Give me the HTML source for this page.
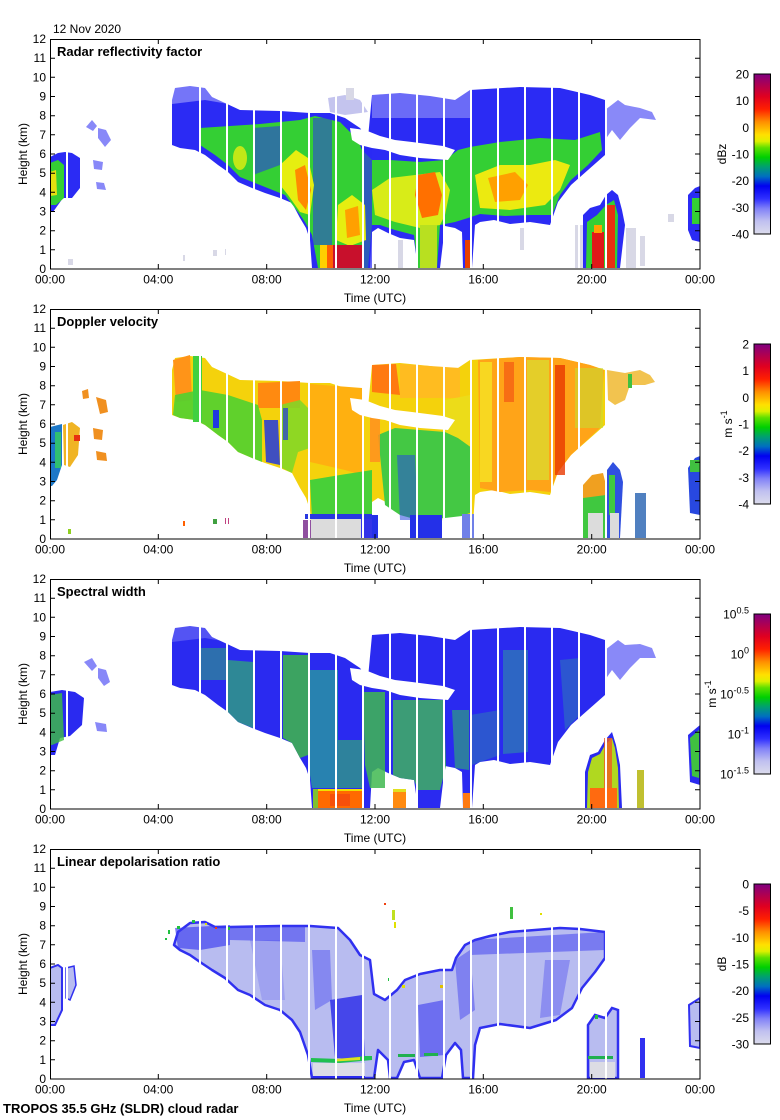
<!DOCTYPE html>
<html><head><meta charset="utf-8"><style>html,body{margin:0;padding:0;background:#fff}svg{display:block}</style></head>
<body>
<svg width="780" height="1120" viewBox="0 0 780 1120" xmlns="http://www.w3.org/2000/svg" font-family="'Liberation Sans', Arial, sans-serif" font-size="12">
<defs>
<clipPath id="c"><rect x="50" y="39" width="650" height="230"/></clipPath>
<linearGradient id="cm" x1="0" y1="1" x2="0" y2="0">
<stop offset="0" stop-color="#dcdcec"/><stop offset="0.08" stop-color="#c0c0f0"/><stop offset="0.16" stop-color="#8080f8"/><stop offset="0.22" stop-color="#3030ff"/><stop offset="0.30" stop-color="#0000f0"/><stop offset="0.36" stop-color="#0070c0"/><stop offset="0.42" stop-color="#00a070"/><stop offset="0.48" stop-color="#00d000"/><stop offset="0.54" stop-color="#60e000"/><stop offset="0.58" stop-color="#e0f000"/><stop offset="0.62" stop-color="#ffe000"/><stop offset="0.70" stop-color="#ff9000"/><stop offset="0.78" stop-color="#ff2000"/><stop offset="0.86" stop-color="#e00020"/><stop offset="1" stop-color="#800080"/>
</linearGradient>
<path id="env" d="M172,100 L175,88 L190,86 L205,88 L212,97 L225,103 L240,110 L280,111 L310,113 L330,113 L345,118 L360,128 L368,138 L372,95 L400,93 L430,96 L455,100 L470,90 L520,87 L560,88 L590,95 L605,100 L605,155 L588,170 L571,185 L558,202 L550,225 L530,222 L510,224 L494,220 L480,222 L475,225 L472,268 L463,268 L462,232 L455,228 L445,226 L440,268 L418,268 L414,240 L400,238 L388,233 L378,228 L372,232 L370,268 L312,268 L310,240 L306,228 L300,218 L292,203 L280,198 L265,193 L252,188 L238,182 L228,172 L218,165 L205,155 L195,150 L180,148 L172,145 Z"/>
<path id="hole" d="M350,128 L365,130 L380,136 L395,140 L412,142 L443,146 L455,150 L448,160 L420,158 L400,155 L385,150 L372,148 L360,145 L352,140 Z"/>
<path id="env4" d="M174,135 L178,122 L190,113 L205,112 L215,117 L230,117 L280,116 L310,116 L338,118 L350,130 L360,145 L370,150 L374,184 L385,190 L397,180 L405,170 L420,164 L440,160 L452,160 L456,148 L465,135 L475,130 L490,126 L510,122 L560,118 L580,119 L605,122 L605,148 L595,162 L582,178 L572,198 L556,210 L530,218 L500,214 L480,218 L475,235 L473,268 L463,268 L461,240 L455,233 L446,245 L442,268 L420,268 L414,250 L404,252 L397,268 L390,268 L388,250 L378,240 L374,268 L312,268 L308,245 L300,222 L292,210 L280,200 L265,195 L250,185 L238,180 L225,168 L212,160 L200,152 L190,145 L180,140 Z"/>
<path id="gaps" fill="none" stroke="#fff" stroke-width="2" d="M67,39V269M200,39V269M227,39V269M254,39V269M281,39V269M309,39V269M336,39V269M363,39V269M390,39V269M417,39V269M444,39V269M471,39V269M498,39V269M525,39V269M552,39V269M579,39V269M606,39V269"/>
</defs>

<!-- ===== Panel 1 data ===== -->
<g clip-path="url(#c)">
<use href="#env" fill="#2b2bf4"/>
<path d="M172,86L240,86L240,106L205,100L172,104Z" fill="#fff" opacity=".35"/>
<path d="M372,92L470,89L470,118L372,118Z" fill="#fff" opacity=".3"/>
<path d="M328,98L345,95L360,100L368,112L345,115L330,112Z" fill="#c4c4ee"/>
<path d="M200,128 L230,126 L260,124 L300,120 L315,116 L340,122 L358,140 L362,150 L372,160 L390,160 L420,162 L445,160 L458,150 L470,147 L500,142 L540,138 L575,140 L600,132 L602,150 L588,165 L571,180 L560,195 L552,215 L530,215 L505,216 L480,214 L468,218 L455,222 L440,225 L437,268 L418,268 L414,235 L395,230 L380,225 L372,225 L368,268 L318,268 L312,235 L305,222 L298,212 L285,195 L270,189 L255,183 L240,177 L228,165 L215,155 L200,145Z" fill="#34cf34"/>
<path d="M253,128L280,126L280,165L253,175Z" fill="#2b2bf4" opacity=".55"/>
<path d="M313,118L332,118L332,245L313,245Z" fill="#2b2bf4" opacity=".5"/>
<path d="M362,140L372,150L372,268L364,268Z" fill="#2b2bf4" opacity=".7"/>
<path d="M280,165L296,150L308,158L314,185L310,215L300,212L288,195L280,185Z" fill="#e6ee10"/>
<path d="M295,170L305,165L311,190L306,210L298,200Z" fill="#ff8a00"/>
<ellipse cx="240" cy="158" rx="7" ry="12" fill="#e6ee10" opacity=".8"/>
<path d="M338,205L352,195L365,205L366,240L350,246L336,240Z" fill="#e6ee10"/>
<path d="M345,210L358,206L360,235L347,238Z" fill="#ffa000"/>
<path d="M372,190L390,178L415,175L440,172L450,190L445,215L440,225L420,228L395,222L375,215Z" fill="#d8ec18"/>
<path d="M418,175L435,172L442,195L438,215L422,218L415,195Z" fill="#ff7000"/>
<rect x="420" y="225" width="17" height="43" fill="#b8e020"/>
<path d="M475,175L500,165L530,165L555,160L570,165L560,190L545,205L510,210L480,208Z" fill="#ecea10"/>
<path d="M488,178L515,172L528,185L520,200L495,202Z" fill="#ffa000"/>
<rect x="320" y="245" width="7" height="23" fill="#ffd000"/>
<rect x="327" y="245" width="6" height="23" fill="#ff6000"/>
<rect x="333" y="245" width="30" height="23" fill="#c8102c"/>
<rect x="465" y="240" width="6" height="28" fill="#e84000"/>
<g fill="#d8d8e6"><rect x="398" y="240" width="5" height="28"/><rect x="520" y="228" width="4" height="22"/><rect x="626" y="228" width="10" height="40"/><rect x="640" y="236" width="5" height="30"/><rect x="668" y="214" width="6" height="8"/><rect x="68" y="259" width="5" height="6"/><rect x="183" y="255" width="2" height="6"/><rect x="213" y="250" width="4" height="6"/><rect x="225" y="249" width="3" height="6"/><rect x="346" y="88" width="8" height="12"/><rect x="575" y="225" width="8" height="43"/></g>
<path d="M583,268L583,215L590,208L600,205L606,195L612,190L618,195L622,210L625,225L620,268Z" fill="#2b2bf4"/>
<path d="M586,268L587,222L597,215L606,205L614,200L618,215L617,268Z" fill="#34cf34"/>
<rect x="592" y="232" width="12" height="36" fill="#e01818"/>
<rect x="594" y="225" width="8" height="8" fill="#ffa000"/>
<rect x="607" y="205" width="8" height="63" fill="#e83010"/>
<path d="M50,157L58,153L65,152L72,153L80,158L80,188L72,198L63,198L58,205L53,212L50,212Z" fill="#2b2bf4"/>
<path d="M50,163L58,160L64,165L64,198L56,205L50,205Z" fill="#34cf34"/>
<path d="M50,172L56,170L57,195L50,196Z" fill="#e6e010"/>
<g fill="#3a3af4" opacity=".6"><path d="M86,127L92,120L97,126L93,131Z"/><path d="M98,128L106,130L111,140L105,147L98,138Z"/><path d="M93,160L103,162L102,170L94,169Z"/><path d="M96,182L104,183L106,190L97,189Z"/><path d="M605,110L618,100L625,105L640,108L652,112L656,120L640,118L630,128L620,140L612,130L605,140Z"/></g>
<path d="M688,195L695,188L700,186L700,242L692,240L688,230Z" fill="#2b2bf4"/>
<rect x="692" y="198" width="8" height="26" fill="#34cf34"/>
<use href="#hole" fill="#fff"/>
<use href="#gaps"/>
</g>

<!-- ===== Panel 2 data ===== -->
<g transform="translate(0,270)" clip-path="url(#c)">
<use href="#env" fill="#f4d20c"/>
<path d="M173,90L190,85L192,130L176,132Z" fill="#ff9418"/>
<path d="M258,113L300,111L300,138L258,138Z" fill="#ff8a10"/>
<path d="M310,114L362,118L362,205L345,200L310,192Z" fill="#ffb010"/>
<path d="M372,95L396,94L400,125L372,122Z" fill="#ff7a10"/>
<path d="M400,94L460,98L460,128L400,128Z" fill="#ffbc20"/>
<path d="M478,90L520,87L560,88L590,95L604,100L600,158L585,172L571,185L558,202L550,222L530,220L500,222L480,218Z" fill="#ffa418"/>
<rect x="480" y="92" width="12" height="120" fill="#f6e424" opacity=".8"/>
<rect x="527" y="90" width="22" height="120" fill="#d8e030" opacity=".7"/>
<rect x="555" y="95" width="10" height="110" fill="#e83800" opacity=".8"/>
<rect x="504" y="92" width="10" height="40" fill="#f03810" opacity=".5"/>
<rect x="575" y="98" width="28" height="60" fill="#c8dc30" opacity=".6"/>
<path d="M175,125L200,120L228,125L258,135L262,150L262,192L252,188L238,182L228,172L218,165L205,155L195,150L180,148L173,145Z" fill="#50d030" opacity=".9"/>
<rect x="193" y="86" width="9" height="66" fill="#40d040"/>
<path d="M280,135L300,130L310,140L310,178L298,182L292,203L282,198Z" fill="#7cd828" opacity=".85"/>
<path d="M310,210L340,205L372,200L372,248L312,248Z" fill="#48d038"/>
<path d="M378,165L395,158L420,160L445,162L458,168L472,178L472,242L462,246L445,248L418,250L400,245L385,235Z" fill="#44c844"/>
<path d="M445,130L470,125L472,178L458,168L445,162Z" fill="#e8e020" opacity=".7"/>
<rect x="213" y="140" width="6" height="18" fill="#2038e0"/>
<path d="M264,150L278,150L280,195L266,192Z" fill="#2038e0" opacity=".85"/>
<rect x="283" y="138" width="5" height="32" fill="#2038e0" opacity=".7"/>
<path d="M397,185L415,185L418,250L400,250Z" fill="#2848e0" opacity=".55"/>
<rect x="410" y="245" width="32" height="23" fill="#2430e8"/>
<rect x="370" y="245" width="8" height="23" fill="#2430e8"/>
<rect x="462" y="244" width="12" height="24" fill="#7080e8"/>
<rect x="305" y="244" width="67" height="5" fill="#2838e0"/>
<rect x="311" y="249" width="50" height="19" fill="#dcdcdc"/>
<rect x="361" y="249" width="11" height="19" fill="#3434e8"/>
<rect x="303" y="250" width="8" height="18" fill="#9050a0"/>
<rect x="370" y="147" width="10" height="45" fill="#ff9020" opacity=".85"/>
<path d="M50,157L62,154L62,195L57,210L52,216L50,216Z" fill="#1c78c8"/>
<rect x="55" y="162" width="6" height="36" fill="#30c070"/>
<path d="M63,155L72,152L80,158L78,185L70,197L64,195Z" fill="#f0b424"/>
<rect x="74" y="165" width="6" height="6" fill="#e83010"/>
<g fill="#f09020"><path d="M82,121L88,119L89,128L83,129Z"/><path d="M96,127L106,130L108,142L100,144Z"/><path d="M93,158L103,160L102,170L94,169Z"/><path d="M96,181L106,183L107,191L97,190Z"/></g>
<path d="M607,100L625,103L640,100L650,105L655,112L645,115L630,115L625,130L615,135L608,130Z" fill="#f0b830" opacity=".85"/>
<rect x="628" y="104" width="4" height="14" fill="#40c040"/>
<path d="M583,268L583,215L592,205L603,203L606,215L607,268Z" fill="#f0a020"/>
<path d="M583,228L606,225L606,268L583,268Z" fill="#40c840"/>
<path d="M607,268L607,200L613,192L620,200L623,212L620,268Z" fill="#3050e0"/>
<rect x="609" y="205" width="6" height="40" fill="#40c840"/>
<rect x="588" y="243" width="15" height="25" fill="#dcdcdc"/>
<rect x="610" y="243" width="9" height="25" fill="#dcdcdc"/>
<rect x="635" y="223" width="11" height="45" fill="#5080c0"/>
<path d="M688,198L695,188L700,186L700,245L690,243Z" fill="#2848e0"/>
<rect x="690" y="190" width="10" height="12" fill="#40c040"/>
<rect x="67" y="259" width="4" height="5" fill="#90d020"/>
<rect x="183" y="251" width="2" height="5" fill="#ff6000"/>
<rect x="213" y="249" width="4" height="5" fill="#40a040"/>
<rect x="225" y="248" width="4" height="6" fill="#c04080"/>
<use href="#hole" fill="#fff"/>
<use href="#gaps"/>
</g>

<!-- ===== Panel 3 data ===== -->
<g transform="translate(0,540)" clip-path="url(#c)">
<use href="#env" fill="#2a2af0"/>
<path d="M172,86L240,86L240,104L205,98L172,102Z" fill="#fff" opacity=".2"/>
<path d="M200,108L228,108L228,140L200,140Z" fill="#30a878" opacity=".55"/>
<path d="M228,120L253,122L253,188L238,182L228,172Z" fill="#30a878" opacity=".75"/>
<path d="M283,115L308,115L308,215L300,218L292,203L283,198Z" fill="#40b848" opacity=".85"/>
<path d="M310,130L338,130L338,248L312,248L310,235Z" fill="#2898a0" opacity=".8"/>
<path d="M338,200L363,200L363,248L338,248Z" fill="#30a878" opacity=".7"/>
<path d="M363,152L385,152L385,248L370,248L365,225Z" fill="#40b850" opacity=".85"/>
<path d="M393,160L444,160L446,226L440,250L418,250L414,240L400,238L393,235Z" fill="#40b060" opacity=".85"/>
<path d="M452,170L469,170L469,230L455,228Z" fill="#30a878" opacity=".65"/>
<path d="M503,110L528,110L528,212L503,214Z" fill="#3098a0" opacity=".55"/>
<path d="M560,120L580,118L580,175L565,190Z" fill="#3098a0" opacity=".4"/>
<path d="M470,175L500,170L500,215L480,222L472,225Z" fill="#3098a0" opacity=".4"/>
<rect x="313" y="249" width="5" height="19" fill="#80c030"/>
<rect x="318" y="249" width="44" height="2" fill="#f0e000"/>
<rect x="318" y="251" width="44" height="17" fill="#ff6a00"/>
<rect x="330" y="254" width="20" height="12" fill="#f04010" opacity=".6"/>
<rect x="393" y="251" width="13" height="17" fill="#ff8a10"/>
<rect x="393" y="249" width="13" height="3" fill="#e0e020"/>
<rect x="463" y="253" width="7" height="15" fill="#ff7a10"/>
<path d="M50,152L62,150L75,152L84,158L82,185L70,196L60,198L55,215L50,215Z" fill="#2a2af0"/>
<path d="M50,155L62,153L64,200L52,205L50,205Z" fill="#40c040" opacity=".8"/>
<g fill="#3a3af4" opacity=".6"><path d="M84,122L92,118L97,126L92,131Z"/><path d="M98,128L106,130L110,142L104,146L98,138Z"/><path d="M95,182L106,184L107,192L97,191Z"/><path d="M605,110L618,100L625,105L640,104L652,108L656,118L640,118L630,128L620,140L612,130L605,140Z"/></g>
<path d="M585,268L585,232L590,215L598,212L605,200L612,192L616,205L620,225L622,268Z" fill="#2a2af0"/>
<path d="M587,268L588,232L592,218L600,214L605,205L612,198L615,208L618,228L619,268Z" fill="#b0d820"/>
<rect x="604" y="198" width="8" height="52" fill="#f05a20" opacity=".8"/>
<rect x="590" y="248" width="27" height="20" fill="#ff6a10"/>
<rect x="637" y="230" width="7" height="38" fill="#c0c030"/>
<path d="M688,195L700,185L700,245L690,242Z" fill="#2a2af0"/>
<path d="M690,198L699,190L699,238L692,236Z" fill="#40c040"/>
<use href="#hole" fill="#fff"/>
<use href="#gaps"/>
</g>

<!-- ===== Panel 4 data ===== -->
<g transform="translate(0,810)" clip-path="url(#c)">
<use href="#env4" fill="#b8bcf0" stroke="#3030f0" stroke-width="2.5" stroke-linejoin="round"/>
<path d="M175,118L230,115L230,135L200,140L178,138Z" fill="#3a3af0" opacity=".65"/>
<path d="M230,116L305,116L305,132L230,130Z" fill="#3a3af0" opacity=".55"/>
<path d="M330,190L362,185L365,250L335,248Z" fill="#2828e8" opacity=".8"/>
<path d="M312,140L330,140L332,190L315,200Z" fill="#3a3af0" opacity=".4"/>
<path d="M418,195L444,190L445,245L420,247Z" fill="#3a3af0" opacity=".6"/>
<path d="M470,130L605,122L605,140L470,145Z" fill="#3a3af0" opacity=".5"/>
<path d="M455,150L470,140L475,200L460,210Z" fill="#3a3af0" opacity=".45"/>
<path d="M545,150L570,150L560,205L540,208Z" fill="#3a3af0" opacity=".35"/>
<path d="M250,130L280,130L285,190L262,190Z" fill="#3a3af0" opacity=".2"/>
<rect x="313" y="253" width="52" height="14" fill="#dcdce6"/>
<rect x="313" y="266" width="52" height="2" fill="#2a2af0"/>
<path d="M311,248L340,249L365,246L372,246L372,250L340,253L311,252Z" fill="#20c050"/>
<path d="M335,249L360,247L360,250L335,251.5Z" fill="#e0e020"/>
<rect x="398" y="244" width="17" height="3" fill="#20b050"/>
<rect x="424" y="243" width="14" height="3" fill="#20b050"/>
<path d="M50,158L58,155L62,158L62,200L55,215L50,215Z" fill="#b8bcf0" stroke="#3030f0" stroke-width="2"/>
<path d="M66,158L74,156L76,175L70,190L66,188Z" fill="#b8bcf0" stroke="#3030f0" stroke-width="1.5"/>
<path d="M588,268L588,215L595,205L605,208L612,198L618,200L618,268Z" fill="#b8bcf0" stroke="#3030f0" stroke-width="2.5"/>
<rect x="590" y="252" width="25" height="16" fill="#dcdce4"/>
<rect x="588" y="246" width="25" height="3" fill="#20b050"/>
<rect x="640" y="228" width="5" height="40" fill="#3030f0"/>
<path d="M689,195L700,188L700,238L690,236Z" fill="#b8bcf0" stroke="#3030f0" stroke-width="2"/>
<g><rect x="177" y="116" width="3" height="3" fill="#20c040"/><rect x="192" y="110" width="3" height="3" fill="#20c040"/><rect x="205" y="113" width="2" height="2" fill="#e0e000"/><rect x="215" y="117" width="2" height="2" fill="#f04010"/><rect x="228" y="117" width="2" height="3" fill="#20c040"/><rect x="165" y="128" width="2" height="2" fill="#20c040"/><rect x="392" y="100" width="3" height="10" fill="#c0e020"/><rect x="394" y="112" width="2" height="6" fill="#e0e000"/><rect x="510" y="97" width="3" height="12" fill="#40c040"/><rect x="384" y="93" width="2" height="2" fill="#f04010"/><rect x="540" y="103" width="2" height="2" fill="#e0e000"/><rect x="402" y="175" width="3" height="3" fill="#e0e000"/><rect x="388" y="168" width="3" height="3" fill="#20c040"/><rect x="440" y="175" width="4" height="3" fill="#e0c000"/><rect x="168" y="120" width="2" height="4" fill="#20c040"/><rect x="595" y="205" width="3" height="4" fill="#20c040"/></g>
<use href="#gaps"/>
</g>

<!-- ===== Axes (panel 1, reused) ===== -->
<g id="ax">
<rect x="50.5" y="39.5" width="649.5" height="229.5" fill="none" stroke="#000" stroke-width="1"/>
<path fill="none" stroke="#000" stroke-width="1" d="M50,249.8h5M50,230.7h5M50,211.5h5M50,192.3h5M50,173.2h5M50,154h5M50,134.8h5M50,115.7h5M50,96.5h5M50,77.3h5M50,58.2h5M700,249.8h-5M700,230.7h-5M700,211.5h-5M700,192.3h-5M700,173.2h-5M700,154h-5M700,134.8h-5M700,115.7h-5M700,96.5h-5M700,77.3h-5M700,58.2h-5M158.3,39v5M266.7,39v5M375,39v5M483.3,39v5M591.7,39v5M158.3,269v-5M266.7,269v-5M375,269v-5M483.3,269v-5M591.7,269v-5"/>
<g text-anchor="end">
<text x="46" y="273">0</text><text x="46" y="253.8">1</text><text x="46" y="234.7">2</text><text x="46" y="215.5">3</text><text x="46" y="196.3">4</text><text x="46" y="177.2">5</text><text x="46" y="158">6</text><text x="46" y="138.8">7</text><text x="46" y="119.7">8</text><text x="46" y="100.5">9</text><text x="46" y="81.3">10</text><text x="46" y="62.2">11</text><text x="46" y="43">12</text>
</g>
<g text-anchor="middle">
<text x="50" y="283.5">00:00</text><text x="158.3" y="283.5">04:00</text><text x="266.7" y="283.5">08:00</text><text x="375" y="283.5">12:00</text><text x="483.3" y="283.5">16:00</text><text x="591.7" y="283.5">20:00</text><text x="700" y="283.5">00:00</text>
<text x="375" y="302">Time (UTC)</text>
<text x="27" y="154" transform="rotate(-90 27 154)">Height (km)</text>
</g>
<rect x="754" y="74" width="16.5" height="160" fill="url(#cm)" stroke="#000" stroke-width="1"/>
</g>
<use href="#ax" y="270"/>
<use href="#ax" y="540"/>
<use href="#ax" y="810"/>

<!-- Titles -->
<text x="53" y="33">12 Nov 2020</text>
<g font-weight="bold" font-size="13">
<text x="57" y="56">Radar reflectivity factor</text>
<text x="57" y="326">Doppler velocity</text>
<text x="57" y="596">Spectral width</text>
<text x="57" y="866">Linear depolarisation ratio</text>
<text x="3" y="1113">TROPOS 35.5 GHz (SLDR) cloud radar</text>
</g>

<!-- Colorbar labels -->
<g text-anchor="end">
<text x="749" y="78.5">20</text><text x="749" y="105.2">10</text><text x="749" y="131.8">0</text><text x="749" y="158.5">-10</text><text x="749" y="185.2">-20</text><text x="749" y="211.8">-30</text><text x="749" y="238.5">-40</text>
<text x="749" y="348.5">2</text><text x="749" y="375.2">1</text><text x="749" y="401.8">0</text><text x="749" y="428.5">-1</text><text x="749" y="455.2">-2</text><text x="749" y="481.8">-3</text><text x="749" y="508.5">-4</text>
<text x="749" y="618.5">10<tspan font-size="9" dy="-5">0.5</tspan></text>
<text x="749" y="658.5">10<tspan font-size="9" dy="-5">0</tspan></text>
<text x="749" y="698.5">10<tspan font-size="9" dy="-5">-0.5</tspan></text>
<text x="749" y="738.5">10<tspan font-size="9" dy="-5">-1</tspan></text>
<text x="749" y="778.5">10<tspan font-size="9" dy="-5">-1.5</tspan></text>
<text x="749" y="888.5">0</text><text x="749" y="915.2">-5</text><text x="749" y="941.8">-10</text><text x="749" y="968.5">-15</text><text x="749" y="995.2">-20</text><text x="749" y="1021.8">-25</text><text x="749" y="1048.5">-30</text>
</g>
<g text-anchor="middle">
<text x="726" y="154" transform="rotate(-90 726 154)">dBz</text>
<text x="732" y="424" transform="rotate(-90 732 424)">m s<tspan font-size="9" dy="-5">-1</tspan></text>
<text x="716" y="694" transform="rotate(-90 716 694)">m s<tspan font-size="9" dy="-5">-1</tspan></text>
<text x="726" y="964" transform="rotate(-90 726 964)">dB</text>
</g>
</svg>
</body></html>
